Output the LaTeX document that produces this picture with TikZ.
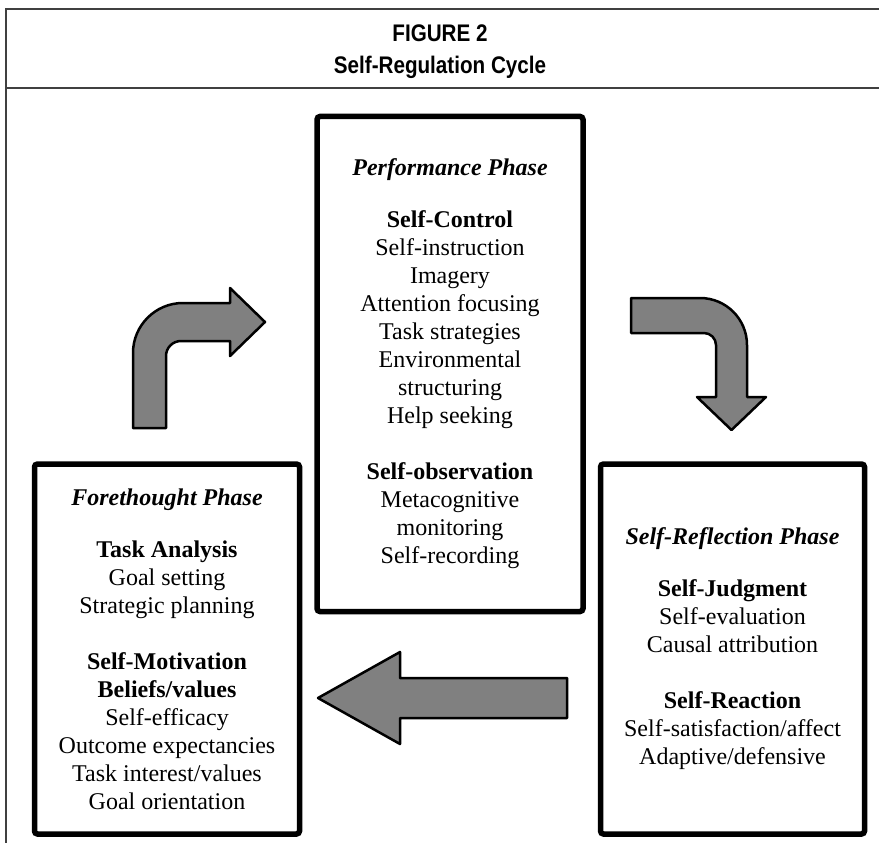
\documentclass[tikz,border=0pt]{standalone}
\usepackage{fontspec}
\setmainfont{Liberation Serif}
\newfontfamily\headfont{Liberation Sans}[FakeStretch=0.86]
\usetikzlibrary{positioning}
\tikzset{phasebox/.style={draw, line width=5.5pt, rounded corners=3pt, align=center, inner sep=0pt, font=\fontsize{24}{28}\selectfont}}
\tikzset{blockarrow/.style={draw, fill=black!50, line width=2.5pt, line join=round}}
\tikzset{frameline/.style={draw=black!75, line width=2pt}}
\tikzset{headtext/.style={font=\headfont\bfseries\fontsize{24}{28}\selectfont}}

\begin{document}
\begin{tikzpicture}[x=1pt,y=-1pt]
\useasboundingbox (0,0) rectangle (879,843);
\draw[frameline] (879,9.5) -- (6,9.5) -- (6,843);
\draw[frameline] (6,88.3) -- (879,88.3);
\node[headtext] (fignum) at (440,33) {FIGURE 2};
\node[headtext] (figtitle) at (440,67) {Self-Regulation Cycle};

\node[phasebox, minimum width=266pt, minimum height=495pt] (perf) at (450,364)
{\textbf{\textit{Performance Phase}}\\[24pt]
\textbf{Self-Control}\\
Self-instruction\\
Imagery\\
Attention focusing\\
Task strategies\\
Environmental\\
structuring\\
Help seeking\\[28pt]
\textbf{Self-observation}\\
Metacognitive\\
monitoring\\
Self-recording};

\node[phasebox, minimum width=265pt, minimum height=370pt] (fore) at (167,649)
{\textbf{\textit{Forethought Phase}}\\[24pt]
\textbf{Task Analysis}\\
Goal setting\\
Strategic planning\\[28pt]
\textbf{Self-Motivation}\\
\textbf{Beliefs/values}\\
Self-efficacy\\
Outcome expectancies\\
Task interest/values\\
Goal orientation};

\node[phasebox, minimum width=264pt, minimum height=370pt] (refl) at (732.5,649)
{\textbf{\textit{Self-Reflection Phase}}\\[24pt]
\textbf{Self-Judgment}\\
Self-evaluation\\
Causal attribution\\[28pt]
\textbf{Self-Reaction}\\
Self-satisfaction/affect\\
Adaptive/defensive};

\draw[blockarrow] (133,428) -- (133,353) .. controls (133,325.4) and (155.4,303) .. (183,303) -- (230,303) -- (230,288) -- (265,322) -- (230,356) -- (230,341) -- (181,341) .. controls (172.7,341) and (166,347.7) .. (166,356) -- (166,428) -- cycle;
\draw[blockarrow] (631,298) -- (700,298) .. controls (726,298) and (747,319) .. (747,345) -- (747,397) -- (766,397) -- (731.5,430) -- (697,397) -- (716,397) -- (716,345) .. controls (716,338.4) and (710.6,333) .. (704,333) -- (631,333) -- cycle;
\draw[blockarrow] (567,678) -- (567,718) -- (400,718) -- (400,744) -- (318,698) -- (400,652) -- (400,678) -- cycle;
\end{tikzpicture}
\end{document}
